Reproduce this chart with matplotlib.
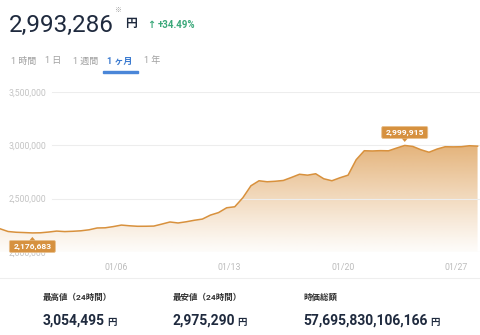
import matplotlib
matplotlib.use('Agg')
import numpy as np
import pandas as pd
import matplotlib.pyplot as plt
import matplotlib.dates as mdates
from matplotlib.patches import FancyBboxPatch, Polygon, Rectangle
from matplotlib.transforms import IdentityTransform

plt.rcParams['font.family'] = ['Roboto', 'Noto Sans CJK JP', 'DejaVu Sans']

# header numbers
current_price = '2,993,286'
change_pct = '+34.49%'

# period tabs (index 3 is the active one)
tabs = ['1 時間', '1 日', '1 週間', '1 ヶ月', '1 年']
active_tab = 3

# 12-hourly prices over the last month (JPY)
timestamps = pd.date_range('2022-12-29 20:00', periods=60, freq='12h')
prices = [
    2216000, 2190000, 2183000, 2180000, 2176683, 2178000, 2185000, 2194000,
    2189300, 2192200, 2196800, 2206200, 2223200, 2225000, 2236400, 2250500,
    2243900, 2239200, 2239500, 2241100, 2259900, 2279700, 2270300, 2281600,
    2295700, 2307000, 2344600, 2368200, 2413400, 2422800, 2507500, 2620500,
    2667600, 2658200, 2662900, 2670400, 2698700, 2728800, 2720300, 2733500,
    2686400, 2667600, 2695900, 2720300, 2865400, 2950100, 2948000, 2951000,
    2949500, 2975500, 2999915, 2990600, 2959500, 2936000, 2966100, 2987800,
    2986500, 2988000, 2997200, 2993286,
]

y_ticks = [2000000, 2500000, 3000000, 3500000]
x_tick_dates = ['2023-01-06', '2023-01-13', '2023-01-20', '2023-01-27']
x_tick_labels = ['01/06', '01/13', '01/20', '01/27']

stat_labels = ['最高値（24時間）', '最安値（24時間）', '時価総額']
stat_values = ['3,054,495', '2,975,290', '57,695,830,106,166']

W, H = 480, 335
ORANGE = '#D8913D'
NAVY = '#1f2a3e'


def fx(px):
    return px / W


def fy(py):
    return 1 - py / H


fig = plt.figure(figsize=(W / 100, H / 100), dpi=100)
fig.patch.set_facecolor('white')

# ---- header ----
fig.text(fx(9), fy(32), current_price, fontsize=17.5, color=NAVY, va='baseline')
fig.text(fx(114), fy(11), '※', fontsize=5, color='#9a9a9a', va='center')
fig.text(fx(125), fy(24), '円', fontsize=8.5, color=NAVY, fontweight='bold', va='center')
fig.text(fx(147), fy(24.5), '↑', fontsize=7, color='#3ba87a', fontweight='bold',
         va='center', family=['DejaVu Sans'])
fig.text(fx(158), fy(24.5), change_pct, fontsize=7, color='#3ba87a',
         fontweight='bold', va='center')

tab_x = [11, 45, 73, 107, 144]
for i, (t, tx) in enumerate(zip(tabs, tab_x)):
    active = i == active_tab
    fig.text(fx(tx), fy(61), t, fontsize=6.5, va='center',
             color='#3c7bd0' if active else '#a0a0a0',
             fontweight='bold' if active else 'normal')
fig.patches.append(Rectangle((fx(103), fy(72.7)), fx(35), 2 / H,
                             transform=fig.transFigure, color='#4a86d8',
                             figure=fig))

# ---- chart ----
ax = fig.add_axes([0, fy(251.7), 1, (251.7 - 92.3) / H])
x = mdates.date2num(timestamps)
for s in ax.spines.values():
    s.set_visible(False)
ax.set_facecolor('none')

for v in y_ticks[1:]:
    ax.axhline(v, xmin=52 / W, color='#ededed', lw=0.8, zorder=3)
ax.axhline(y_ticks[0], color='#ececec', lw=0.8, zorder=3)

ax.set_yticks(y_ticks)
ax.set_yticklabels([f'{v:,}' for v in y_ticks])
ax.tick_params(axis='y', length=0, pad=-33.3, labelsize=6.3, labelcolor='#c4c4c4')
ax.set_xticks(mdates.date2num(pd.to_datetime(x_tick_dates)))
ax.set_xticklabels(x_tick_labels)
ax.tick_params(axis='x', length=0, pad=8, labelsize=6.3, labelcolor='#bcbcbc')

# gradient under the line
verts = list(zip(x, prices)) + [(x[-1], 2000000), (x[0], 2000000)]
area = Polygon(verts, closed=True, facecolor='none', edgecolor='none')
ax.add_patch(area)
t = np.linspace(1, 0, 256)[:, None]
alpha = 0.03 + 0.71 * t ** 1.1
rgba = np.zeros((256, 1, 4))
rgba[..., 0] = 0.86
rgba[..., 1] = 0.6
rgba[..., 2] = 0.3
rgba[..., 3] = alpha
img = ax.imshow(rgba, extent=(x[0], x[-1] + 1, 2000000, 3000000),
                aspect='auto', origin='upper', zorder=1, interpolation='bilinear')
img.set_clip_path(area)
ax.set_xlim(x[0], x[0] + 29.65)
ax.set_ylim(2000000, 3500000)

ax.plot(x, prices, color=ORANGE, lw=1.1, zorder=4, solid_joinstyle='round')


def price_tag(idx, above):
    px, py = ax.transData.transform((x[idx], prices[idx]))
    w, h = 46, 12
    if above:
        cy = py + 13
        tri = [(px - 3, cy - h / 2), (px + 3, cy - h / 2), (px, cy - h / 2 - 3.5)]
    else:
        cy = py - 13.5
        tri = [(px - 3, cy + h / 2), (px + 3, cy + h / 2), (px, cy + h / 2 + 3.5)]
    box = FancyBboxPatch((px - w / 2, cy - h / 2), w, h,
                         boxstyle='round,pad=0,rounding_size=1.5',
                         transform=IdentityTransform(), fc='#D6913F',
                         ec='#E8C08E', lw=0.6, zorder=10, clip_on=False)
    fig.patches.append(box)
    box.set_figure(fig)
    pointer = Polygon(tri, closed=True, transform=IdentityTransform(),
                      fc='#D6913F', ec='none', zorder=10, clip_on=False)
    fig.patches.append(pointer)
    pointer.set_figure(fig)
    fig.text(px / W, cy / H, f'{prices[idx]:,}', fontsize=6.1, color='white',
             fontweight='bold', ha='center', va='center', zorder=11)


price_tag(int(np.argmax(prices)), True)
price_tag(int(np.argmin(prices)), False)

# ---- bottom stats ----
fig.add_artist(plt.Line2D([0, 1], [fy(278.3), fy(278.3)], color='#eeeeee',
                          lw=0.8, transform=fig.transFigure))
stat_x = [43, 172.5, 303]
for lbl, val, sx in zip(stat_labels, stat_values, stat_x):
    fig.text(fx(sx), fy(296.7), lbl, fontsize=6.1, color='#333333',
             fontweight='bold', va='center')
    tv = fig.text(fx(sx), fy(325), val, fontsize=10, color=NAVY,
                  fontweight='bold', va='baseline')
    fig.canvas.draw()
    bb = tv.get_window_extent()
    fig.text(bb.x1 / W + fx(2.5), fy(325), '円', fontsize=6.8, color=NAVY,
             fontweight='bold', va='baseline')

fig.savefig('out.png', dpi=100, facecolor='white')
